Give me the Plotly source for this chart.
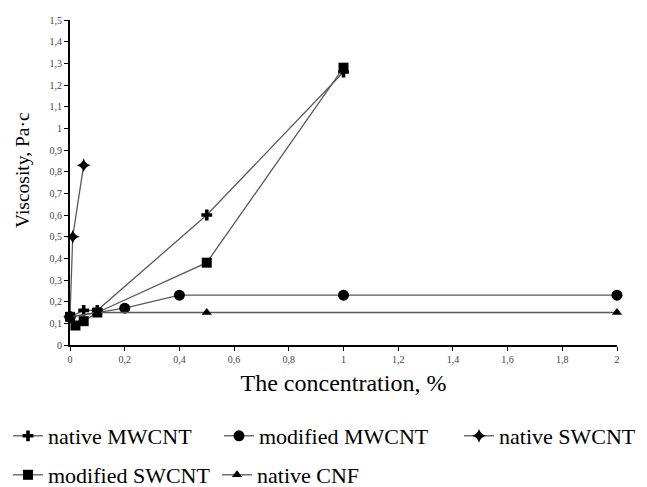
import plotly.graph_objects as go

# Data
native_mwcnt_x = [0, 0.05, 0.1, 0.5, 1]
native_mwcnt_y = [0.13, 0.16, 0.16, 0.60, 1.26]

modified_mwcnt_x = [0, 0.2, 0.4, 1, 2]
modified_mwcnt_y = [0.13, 0.17, 0.23, 0.23, 0.23]

native_swcnt_x = [0, 0.01, 0.05]
native_swcnt_y = [0.13, 0.50, 0.83]

modified_swcnt_x = [0, 0.02, 0.05, 0.1, 0.5, 1]
modified_swcnt_y = [0.13, 0.09, 0.11, 0.15, 0.38, 1.28]

native_cnf_x = [0, 0.1, 0.5, 2]
native_cnf_y = [0.13, 0.15, 0.15, 0.15]

series = [
    ("native MWCNT", native_mwcnt_x, native_mwcnt_y, "cross", 9),
    ("modified MWCNT", modified_mwcnt_x, modified_mwcnt_y, "circle", 11),
    ("native SWCNT", native_swcnt_x, native_swcnt_y, "star-diamond", 10),
    ("modified SWCNT", modified_swcnt_x, modified_swcnt_y, "square", 10),
    ("native CNF", native_cnf_x, native_cnf_y, "triangle-up", 9),
]

# the page body has an 8px margin, so the figure is 8px smaller than the window
W, H = 639, 479
# legend item anchor positions in figure pixels (left edge, vertical centre)
legend_pos = [(0, 428), (211, 428), (451, 428), (0, 467), (209, 467)]

font_family = "Liberation Serif"

fig = go.Figure()
legend_layouts = {}
for i, (name, xs, ys, sym, size) in enumerate(series):
    lname = "legend" if i == 0 else f"legend{i + 1}"
    fig.add_trace(go.Scatter(
        x=xs, y=ys, name=name, mode="lines+markers",
        line=dict(color="#5a5a5a", width=1.3),
        marker=dict(symbol=sym, size=size, color="black"),
        cliponaxis=False, legend=lname,
    ))
    px, py = legend_pos[i]
    legend_layouts[lname] = dict(
        orientation="h", xref="container", yref="container",
        x=px / W, xanchor="left", y=1 - py / H, yanchor="middle",
        font=dict(family=font_family, size=22, color="black"),
        bgcolor="rgba(0,0,0,0)",
    )

fig.update_layout(
    width=W, height=H,
    margin=dict(l=62, r=30, t=12, b=142, autoexpand=False),
    paper_bgcolor="white", plot_bgcolor="white",
    separators=", ",
    font=dict(family=font_family, color="black"),
    showlegend=True,
    xaxis=dict(
        range=[0, 2], dtick=0.2, tick0=0,
        showgrid=False, zeroline=False, automargin=False,
        showline=True, linecolor="black", linewidth=2,
        ticks="outside", ticklen=4, tickcolor="black", tickwidth=1,
        tickfont=dict(family=font_family, size=10, color="#444"),
        title=dict(text="The concentration, %", font=dict(family=font_family, size=24, color="black"), standoff=10),
    ),
    yaxis=dict(
        range=[0, 1.5], dtick=0.1, tick0=0,
        showgrid=False, zeroline=False, automargin=False,
        showline=True, linecolor="black", linewidth=2,
        ticks="outside", ticklen=4, tickcolor="black", tickwidth=1,
        tickfont=dict(family=font_family, size=10, color="#444"),
    ),
    annotations=[dict(
        text="Viscosity, Pa·c", textangle=-90, showarrow=False,
        xref="paper", yref="paper", x=-0.088, y=0.538,
        xanchor="center", yanchor="middle",
        font=dict(family=font_family, size=19.5, color="black"),
    )],
    **legend_layouts,
)

fig.write_html("out.html")
